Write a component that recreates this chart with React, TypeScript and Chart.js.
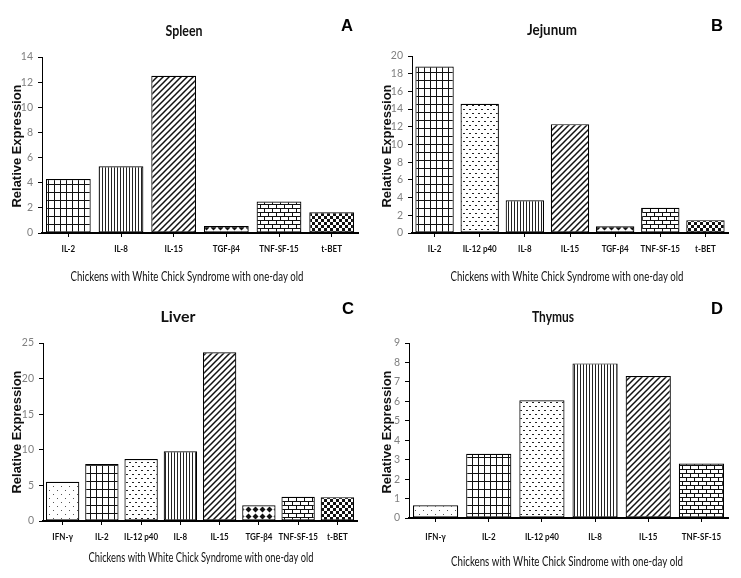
import React, { useEffect, useRef } from 'react';
import { Chart, registerables } from 'chart.js';

Chart.register(...registerables);

// values
const spleenLabels = ['IL-2', 'IL-8', 'IL-15', 'TGF-β4', 'TNF-SF-15', 't-BET'];
const spleenValues = [4.3, 5.3, 12.5, 0.55, 2.5, 1.65];

const jejunumLabels = ['IL-2', 'IL-12 p40', 'IL-8', 'IL-15', 'TGF-β4', 'TNF-SF-15', 't-BET'];
const jejunumValues = [18.8, 14.6, 3.7, 12.3, 0.75, 2.85, 1.45];

const liverLabels = ['IFN-γ', 'IL-2', 'IL-12 p40', 'IL-8', 'IL-15', 'TGF-β4', 'TNF-SF-15', 't-BET'];
const liverValues = [5.5, 8.0, 8.7, 9.8, 23.7, 2.2, 3.4, 3.35];

const thymusLabels = ['IFN-γ', 'IL-2', 'IL-12 p40', 'IL-8', 'IL-15', 'TNF-SF-15'];
const thymusValues = [0.65, 3.3, 6.05, 7.95, 7.3, 2.8];

const xTitleSyndrome = 'Chickens with White Chick Syndrome with one-day old';
const xTitleSindrome = 'Chickens with White Chick Sindrome with one-day old';

// fill pattern per gene
const patternFor: Record<string, string> = {
  'IFN-γ': 'dots',
  'IL-2': 'grid',
  'IL-12 p40': 'dashes',
  'IL-8': 'vlines',
  'IL-15': 'diag',
  'TGF-β4': 'diamonds',
  'TNF-SF-15': 'bricks',
  't-BET': 'checker',
};

function makePattern(ctx: CanvasRenderingContext2D, kind: string): CanvasPattern | string {
  const c = document.createElement('canvas');
  const sizes: Record<string, [number, number]> = {
    dots: [8, 8], grid: [6, 8], dashes: [6, 8], vlines: [3, 2],
    diag: [6, 6], diamonds: [7, 7], bricks: [8, 8], checker: [6, 6],
  };
  const [w, h] = sizes[kind] || [4, 4];
  c.width = w;
  c.height = h;
  const g = c.getContext('2d')!;
  g.fillStyle = '#fff';
  g.fillRect(0, 0, w, h);
  g.fillStyle = '#111';
  g.strokeStyle = '#111';
  if (kind === 'dots') {
    g.fillStyle = '#555';
    g.fillRect(1, 1, 1, 1);
    g.fillRect(5, 5, 1, 1);
  } else if (kind === 'grid') {
    g.fillRect(0, 0, 1, h);
    g.fillRect(0, 0, w, 1);
  } else if (kind === 'dashes') {
    g.fillStyle = '#222';
    g.fillRect(0, 1, 2, 1);
    g.fillRect(3, 5, 2, 1);
  } else if (kind === 'vlines') {
    g.fillStyle = '#222';
    g.fillRect(0, 0, 1, h);
  } else if (kind === 'diag') {
    g.lineWidth = 1.5;
    g.beginPath();
    g.moveTo(-1, 7); g.lineTo(7, -1);
    g.moveTo(-1, 1); g.lineTo(1, -1);
    g.moveTo(5, 7); g.lineTo(7, 5);
    g.stroke();
  } else if (kind === 'diamonds') {
    g.beginPath();
    g.moveTo(3.5, 0.5); g.lineTo(6.5, 3.5); g.lineTo(3.5, 6.5); g.lineTo(0.5, 3.5);
    g.closePath();
    g.fill();
  } else if (kind === 'bricks') {
    g.fillRect(0, 0, w, 1);
    g.fillRect(0, 4, w, 1);
    g.fillRect(0, 0, 1, 4);
    g.fillRect(4, 4, 1, 4);
  } else if (kind === 'checker') {
    g.fillRect(0, 0, 3, 3);
    g.fillRect(3, 3, 3, 3);
  }
  return ctx.createPattern(c, 'repeat') || '#fff';
}

// draws text centred at (x, y), squeezed or stretched horizontally by sx
function drawText(ctx: CanvasRenderingContext2D, text: string, x: number, y: number,
  font: string, sx: number, color: string, rotate = false) {
  ctx.save();
  ctx.font = font;
  ctx.fillStyle = color;
  ctx.textAlign = 'center';
  ctx.textBaseline = 'middle';
  ctx.translate(x, y);
  if (rotate) ctx.rotate(-Math.PI / 2);
  ctx.scale(sx, 1);
  ctx.fillText(text, 0, 0);
  ctx.restore();
}

// same, but fitted to a given width
function fitText(ctx: CanvasRenderingContext2D, text: string, x: number, y: number,
  font: string, width: number, color: string, rotate = false) {
  ctx.save();
  ctx.font = font;
  const natural = ctx.measureText(text).width;
  ctx.restore();
  drawText(ctx, text, x, y, font, width / natural, color, rotate);
}

interface PanelProps {
  labels: string[];
  values: number[];
  max: number;
  step: number;
  title: string;
  letter: string;
  xTitle: string;
  left: number;
  top: number;
  width: number;
  height: number;
  plot: { l: number; t: number; r: number; b: number };
  titlePos: [number, number, number];
  letterPos: [number, number];
  yTitleY: number;
  labelY: number;
  xTitlePos: [number, number, number];
}

const Panel: React.FC<PanelProps> = (p) => {
  const canvasRef = useRef<HTMLCanvasElement>(null);

  useEffect(() => {
    if (!canvasRef.current) return;
    const ctx = canvasRef.current.getContext('2d');
    if (!ctx) return;

    const fills = p.labels.map((l) => makePattern(ctx, patternFor[l]));

    const textPlugin = {
      id: 'panelText',
      afterDraw(chart: Chart) {
        const c = chart.ctx;
        const xs = chart.scales.x;
        p.labels.forEach((l, i) => {
          drawText(c, l, xs.getPixelForTick(i), p.labelY, 'bold 10px Lato', 0.8, '#111');
        });
        fitText(c, p.title, p.titlePos[0], p.titlePos[1], 'bold 15px Lato', p.titlePos[2], '#111');
        fitText(c, p.letter, p.letterPos[0], p.letterPos[1], 'bold 16px "Liberation Sans"', 12, '#000');
        fitText(c, 'Relative Expression', 18, p.yTitleY, 'bold 12.5px "Liberation Sans"', 123, '#111', true);
        fitText(c, p.xTitle, p.xTitlePos[0], p.xTitlePos[1], '13px Lato', p.xTitlePos[2], '#111');
      },
    };

    const chart = new Chart(ctx, {
      type: 'bar',
      data: {
        labels: p.labels,
        datasets: [{
          data: p.values,
          backgroundColor: fills as any,
          borderColor: '#000',
          borderWidth: 1.2,
          borderSkipped: false,
          categoryPercentage: 1,
          barPercentage: 0.85,
        }],
      },
      options: {
        responsive: false,
        animation: false,
        layout: {
          padding: { left: 0, top: p.plot.t, right: p.width - p.plot.r, bottom: 0 },
        },
        plugins: {
          legend: { display: false },
          title: { display: false },
          tooltip: { enabled: false },
        },
        scales: {
          x: {
            grid: { offset: false, drawOnChartArea: false, drawTicks: true, tickLength: 4, color: '#000' },
            border: { display: true, color: '#000', width: 2 },
            ticks: { display: false, autoSkip: false },
            afterFit: (scale: any) => { scale.height = p.height - p.plot.b; },
          },
          y: {
            min: 0,
            max: p.max,
            grid: { drawOnChartArea: false, drawTicks: true, tickLength: 4, color: '#000' },
            border: { display: true, color: '#000', width: 1 },
            ticks: { stepSize: p.step, color: '#808080', font: { family: 'Lato', size: 10.5 }, padding: 5 },
            afterFit: (scale: any) => { scale.width = p.plot.l; },
          },
        },
      },
      plugins: [textPlugin],
    });

    return () => {
      chart.destroy();
    };
  }, [p]);

  return (
    <canvas
      ref={canvasRef}
      width={p.width}
      height={p.height}
      style={{ position: 'absolute', left: p.left, top: p.top, width: p.width, height: p.height }}
    />
  );
};

const panels: PanelProps[] = [
  {
    labels: spleenLabels, values: spleenValues, max: 14, step: 2,
    title: 'Spleen', letter: 'A', xTitle: xTitleSyndrome,
    left: 0, top: 0, width: 370, height: 289,
    plot: { l: 42, t: 57, r: 358, b: 233 },
    titlePos: [184, 31, 37], letterPos: [347, 27], yTitleY: 146, labelY: 249,
    xTitlePos: [187, 277, 233],
  },
  {
    labels: jejunumLabels, values: jejunumValues, max: 20, step: 2,
    title: 'Jejunum', letter: 'B', xTitle: xTitleSyndrome,
    left: 370, top: 0, width: 371, height: 289,
    plot: { l: 42, t: 56, r: 358, b: 233 },
    titlePos: [182, 30, 50], letterPos: [347, 27], yTitleY: 146, labelY: 249,
    xTitlePos: [197, 277, 233],
  },
  {
    labels: liverLabels, values: liverValues, max: 25, step: 5,
    title: 'Liver', letter: 'C', xTitle: xTitleSyndrome,
    left: 0, top: 289, width: 370, height: 289,
    plot: { l: 43, t: 54, r: 357, b: 232 },
    titlePos: [178, 28, 35], letterPos: [348, 21], yTitleY: 143, labelY: 248,
    xTitlePos: [201, 269, 225],
  },
  {
    labels: thymusLabels, values: thymusValues, max: 9, step: 1,
    title: 'Thymus', letter: 'D', xTitle: xTitleSindrome,
    left: 370, top: 289, width: 371, height: 289,
    plot: { l: 39, t: 54, r: 358, b: 229 },
    titlePos: [183, 28, 42], letterPos: [347, 21], yTitleY: 143, labelY: 248,
    xTitlePos: [197, 273, 232],
  },
];

export default function App() {
  return (
    <div style={{ position: 'fixed', left: 0, top: 0, width: 741, height: 578, background: '#fff', overflow: 'hidden' }}>
      {panels.map((p) => (
        <Panel key={p.letter} {...p} />
      ))}
    </div>
  );
}
